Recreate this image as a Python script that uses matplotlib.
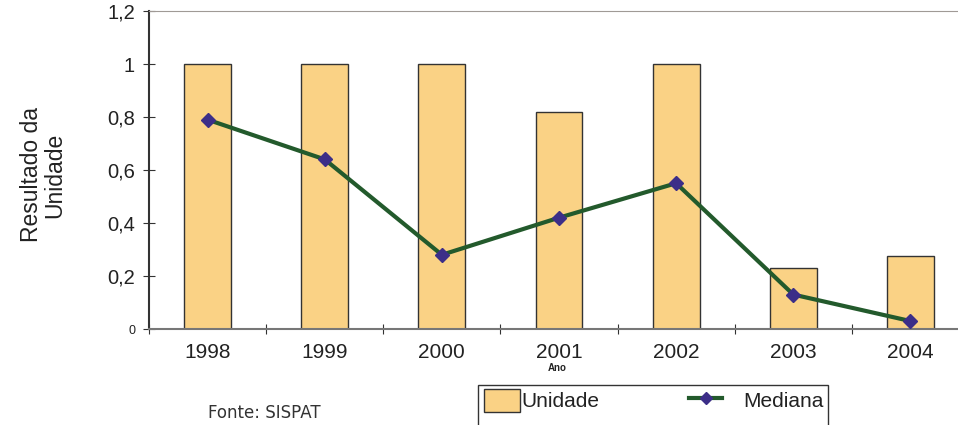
import numpy as np
import matplotlib.pyplot as plt
from matplotlib.patches import Rectangle, Patch
from matplotlib.lines import Line2D

plt.rcParams['font.family'] = ['Liberation Sans', 'DejaVu Sans']

# data
anos = ['1998', '1999', '2000', '2001', '2002', '2003', '2004']
unidade = [1.0, 1.0, 1.0, 0.82, 1.0, 0.23, 0.275]
mediana = [0.79, 0.64, 0.28, 0.42, 0.55, 0.13, 0.03]
yticks = [0, 0.2, 0.4, 0.6, 0.8, 1.0, 1.2]
ylabels = ['0', '0,2', '0,4', '0,6', '0,8', '1', '1,2']

bar_col = '#FAD285'
line_col = '#235A2C'
mark_col = '#3C2E88'

fig = plt.figure(figsize=(9.58, 4.25), dpi=100)
ax = fig.add_axes([149/958, 96/425, 820/958, 318/425])

x = np.arange(len(anos))
ax.bar(x, unidade, width=0.4, color=bar_col, edgecolor='#333333', linewidth=1.0, zorder=2)
ax.plot(x, mediana, color=line_col, linewidth=3, marker='D', markersize=7,
        markerfacecolor=mark_col, markeredgecolor=mark_col, zorder=3)

ax.set_xlim(-0.5, 6.5)
ax.set_ylim(0, 1.2)

# ticks between categories, labels at the centres
ax.set_xticks(np.arange(-0.5, 7.0, 1.0))
ax.set_xticklabels([])
ax.set_xticks(x, minor=True)
ax.set_xticklabels(anos, minor=True, fontsize=15, color='#222222')
ax.tick_params(axis='x', which='minor', length=0, pad=10)
ax.tick_params(axis='x', which='major', direction='inout', length=7, color='#333333')

ax.set_yticks(yticks)
ax.set_yticklabels(ylabels, fontsize=14.5, color='#222222')
ax.get_yticklabels()[0].set_fontsize(9)
ax.tick_params(axis='y', direction='inout', length=8, color='#333333', pad=6)

ax.spines['right'].set_visible(False)
ax.spines['top'].set_color('#a09a96')
ax.spines['bottom'].set_color('#777777')
ax.spines['bottom'].set_linewidth(1.5)
ax.spines['left'].set_color('#333333')
ax.spines['left'].set_linewidth(1.5)

fig.text(43/958, 1 - 175/425, 'Resultado da\nUnidade', rotation=90, ha='center', va='center',
         fontsize=16.5, color='#222222', linespacing=1.0)
fig.text(557/958, 1 - 368/425, 'Ano', ha='center', va='center', fontsize=7,
         fontweight='bold', color='#222222')
fig.text(208/958, 1 - 413/425, 'Fonte: SISPAT', ha='left', va='center', fontsize=12,
         family='DejaVu Sans', color='#333333')

# legend box
fig.patches.append(Rectangle((478/958, -0.05), 350/958, 40/425 + 0.05, transform=fig.transFigure,
                             fill=False, edgecolor='#333333', linewidth=1.0, clip_on=False))
h_uni = Patch(facecolor=bar_col, edgecolor='#333333')
h_med = Line2D([], [], color=line_col, linewidth=3, marker='D', markersize=6,
               markerfacecolor=mark_col, markeredgecolor=mark_col, markevery=[1])
leg1 = fig.legend([h_uni], ['Unidade'], loc='upper left',
                  bbox_to_anchor=(481/958, 1 - 386/425), frameon=False, fontsize=15,
                  handlelength=1.7, handleheight=1.3, handletextpad=0.1,
                  borderpad=0.15, borderaxespad=0)
leg2 = fig.legend([h_med], ['Mediana'], loc='upper left',
                  bbox_to_anchor=(686/958, 1 - 386/425), frameon=False, fontsize=15,
                  handlelength=1.6, handleheight=1.3, handletextpad=1.0,
                  borderpad=0.15, borderaxespad=0)
for leg in (leg1, leg2):
    for t in leg.get_texts():
        t.set_color('#222222')

fig.savefig('out.png', dpi=100)
